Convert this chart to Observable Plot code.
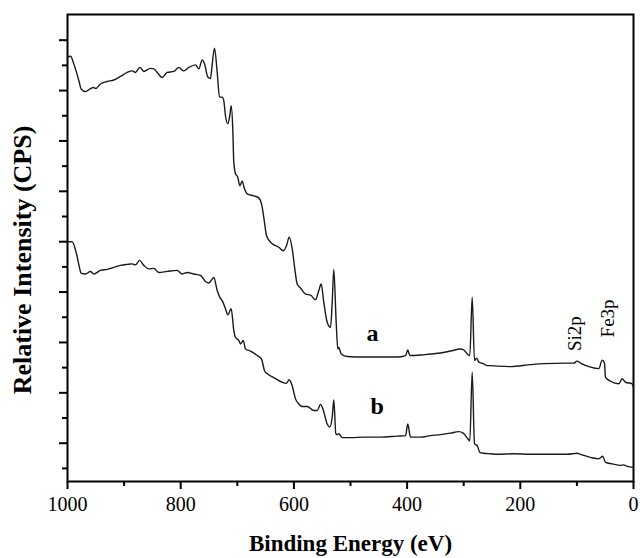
<!DOCTYPE html>
<html>
<head>
<meta charset="utf-8">
<script src="https://cdn.jsdelivr.net/npm/d3@7"></script>
<script src="https://cdn.jsdelivr.net/npm/@observablehq/plot@0.6"></script>
<style>
  html, body { margin: 0; padding: 0; background: #fff; }
</style>
</head>
<body>
<div id="chart"></div>
<script>
// Binding energy (eV) and relative intensity (arbitrary units, one major tick = 1)
const energyA = [1000, 994.7, 988.9, 980.0, 975.8, 968.2, 959.4, 953.5, 950.5, 941.7, 929.9, 918.2, 906.4, 894.5, 885.7, 879.9, 872.3, 865.2, 853.4, 847.5, 841.5, 832.7, 823.9, 812.2, 803.4, 794.5, 785.7, 773.9, 768.0, 762.0, 757.9, 752.1, 747.3, 745, 740.3, 735.5, 731.4, 726.7, 723.9, 720.9, 716.8, 713.3, 710.8, 708.0, 706.2, 703.2, 699.1, 695.6, 691.4, 687.3, 682.5, 670.8, 662.0, 657.2, 651.9, 648.4, 638.3, 626.7, 618.9, 613.1, 608.3, 603.0, 598.4, 594.2, 588.3, 579.5, 570.7, 561.8, 556.0, 551.8, 547.2, 541.2, 535.3, 532.3, 529.5, 525.3, 522.4, 520.7, 516.4, 505.8, 476.5, 447.0, 417.5, 402.8, 398.8, 395.2, 376.3, 358.7, 341.0, 323.3, 305.6, 299.8, 292.7, 289.2, 285.0, 280.9, 277.4, 273.3, 265.6, 258.5, 252.7, 240.8, 217.3, 182.0, 158.5, 117.1, 105.5, 99.5, 93.6, 76.0, 61.3, 55.3, 51.3, 49.5, 40.6, 25.9, 20.0, 14.1, 2.3, 0];
const intensityA = [7.66, 7.68, 7.53, 7.20, 7.03, 6.98, 7.04, 7.06, 7.04, 7.13, 7.18, 7.21, 7.28, 7.36, 7.39, 7.36, 7.46, 7.38, 7.44, 7.43, 7.36, 7.26, 7.36, 7.38, 7.46, 7.39, 7.46, 7.51, 7.43, 7.61, 7.53, 7.27, 7.24, 7.45, 7.84, 7.36, 6.87, 6.87, 6.80, 6.50, 6.34, 6.50, 6.70, 6.24, 5.58, 5.35, 5.28, 5.11, 5.20, 5.05, 4.95, 4.91, 4.87, 4.75, 4.38, 4.12, 3.96, 3.89, 3.82, 3.92, 4.09, 3.86, 3.46, 3.16, 3.08, 2.96, 2.94, 2.85, 3.03, 3.16, 2.80, 2.40, 2.30, 2.80, 3.45, 2.40, 1.87, 1.90, 1.77, 1.72, 1.71, 1.71, 1.71, 1.74, 1.85, 1.74, 1.75, 1.77, 1.79, 1.83, 1.87, 1.85, 1.76, 1.74, 2.90, 1.64, 1.69, 1.61, 1.58, 1.54, 1.54, 1.53, 1.52, 1.56, 1.58, 1.59, 1.59, 1.63, 1.59, 1.51, 1.48, 1.65, 1.59, 1.31, 1.23, 1.18, 1.28, 1.21, 1.18, 1.10];

const energyB = [1000, 991.7, 984.1, 978.3, 975.8, 968.2, 959.4, 953.5, 941.7, 929.9, 918.2, 906.4, 894.5, 885.7, 879.9, 872.8, 865.2, 856.4, 847.5, 838.7, 823.9, 806.2, 797.4, 788.5, 776.9, 765.0, 756.2, 750.4, 746.1, 741.5, 735.5, 731.0, 726.7, 720.9, 716.8, 710.8, 706.2, 703.2, 697.3, 694.3, 689.6, 685.5, 676.7, 664.8, 657.2, 651.9, 647.0, 635.5, 620.7, 613.1, 608.3, 603.0, 597.2, 591.4, 585.3, 576.5, 564.8, 558.8, 553.0, 548.2, 541.2, 536.6, 532.3, 529.5, 525.9, 522.4, 520.7, 514.7, 500.0, 476.5, 447.0, 417.5, 402.8, 398.8, 394.0, 376.3, 358.7, 341.0, 323.3, 308.7, 300.9, 292.7, 289.2, 285.0, 280.9, 276.1, 271.6, 264.5, 252.7, 240.8, 211.5, 182.0, 152.5, 117.1, 99.5, 93.6, 76.0, 61.3, 54.3, 49.5, 37.6, 23.0, 18.2, 11.1, 0];
const intensityB = [4.00, 4.00, 3.76, 3.46, 3.37, 3.36, 3.41, 3.36, 3.43, 3.45, 3.49, 3.53, 3.55, 3.56, 3.54, 3.63, 3.53, 3.46, 3.47, 3.39, 3.41, 3.43, 3.36, 3.39, 3.36, 3.33, 3.21, 3.18, 3.23, 3.29, 3.03, 2.90, 2.83, 2.67, 2.55, 2.67, 2.24, 2.10, 2.04, 1.97, 2.04, 1.87, 1.83, 1.74, 1.67, 1.44, 1.38, 1.30, 1.21, 1.19, 1.26, 1.14, 0.88, 0.78, 0.73, 0.73, 0.65, 0.65, 0.77, 0.66, 0.38, 0.32, 0.52, 0.86, 0.19, 0.17, 0.19, 0.11, 0.11, 0.12, 0.12, 0.14, 0.15, 0.38, 0.12, 0.12, 0.15, 0.17, 0.20, 0.23, 0.20, 0.09, 0.05, 1.41, -0.01, -0.05, -0.18, -0.20, -0.21, -0.22, -0.21, -0.22, -0.22, -0.22, -0.20, -0.22, -0.28, -0.31, -0.26, -0.38, -0.41, -0.44, -0.43, -0.46, -0.48];

// Axis ticks
const xMajorTicks = [1000, 800, 600, 400, 200, 0];
const xMinorTicks = [900, 700, 500, 300, 100];
const yMajorTicks = [0, 1, 2, 3, 4, 5, 6, 7, 8];
const yMinorTicks = [-0.5, 0.5, 1.5, 2.5, 3.5, 4.5, 5.5, 6.5, 7.5];

// Curve labels and peak annotations
const curveLabels = ["a", "b"];
const curveLabelEnergy = [461, 453];
const curveLabelIntensity = [2.19, 0.74];
const peakLabels = ["Si2p", "Fe3p"];
const peakLabelEnergy = [104, 45.5];
const peakLabelIntensity = [1.83, 2.10];
const yTitle = "Relative Intensity (CPS)";
const xTitle = "Binding Energy (eV)";

const seriesA = energyA.map((e, i) => ({energy: e, intensity: intensityA[i]}));
const seriesB = energyB.map((e, i) => ({energy: e, intensity: intensityB[i]}));
const curveLabelData = curveLabels.map((t, i) => ({t, energy: curveLabelEnergy[i], intensity: curveLabelIntensity[i]}));
const peakLabelData = peakLabels.map((t, i) => ({t, energy: peakLabelEnergy[i], intensity: peakLabelIntensity[i]}));

const serif = "'Liberation Serif', 'Times New Roman', 'DejaVu Serif', serif";

const chart = Plot.plot({
  width: 640,
  height: 558,
  marginLeft: 67,
  marginRight: 7,
  marginTop: 14,
  marginBottom: 77,
  style: `font-family: ${serif}; background: #fff; color: #000;`,
  x: {domain: [1000, 0]},
  y: {domain: [-0.76, 8.51]},
  marks: [
    Plot.axisX(xMajorTicks, {tickSize: 8, tickPadding: 7, strokeWidth: 2, fontSize: 20, tickFormat: d => String(d),
      label: xTitle, labelAnchor: "center", labelArrow: "none", labelOffset: 69}),
    Plot.axisX(xMinorTicks, {tickSize: 5, strokeWidth: 2, tickFormat: () => "", label: null}),
    Plot.axisY(yMajorTicks, {tickSize: 8, strokeWidth: 2, tickFormat: () => "", label: null}),
    Plot.axisY(yMinorTicks, {tickSize: 5, strokeWidth: 2, tickFormat: () => "", label: null}),
    Plot.frame({stroke: "#000", strokeWidth: 2}),
    Plot.line(seriesA, {x: "energy", y: "intensity", stroke: "#1a1a1a", strokeWidth: 1.4, curve: "monotone-x"}),
    Plot.line(seriesB, {x: "energy", y: "intensity", stroke: "#1a1a1a", strokeWidth: 1.4, curve: "monotone-x"}),
    Plot.text(curveLabelData, {x: "energy", y: "intensity", text: "t", fontSize: 24, fontWeight: "bold", fill: "#000"}),
    Plot.text(peakLabelData, {x: "energy", y: "intensity", text: "t", fontSize: 19, rotate: -90, textAnchor: "start", lineAnchor: "middle", fill: "#000"})
  ]
});

const svg = d3.select(chart);
svg.selectAll("text").style("font-family", serif);
svg.selectAll("g[aria-label='x-axis label']")
  .style("font-weight", "bold")
  .attr("font-size", 23);
// rotated y-axis title, placed beside the left axis
svg.append("text")
  .attr("transform", "translate(31,260) rotate(-90)")
  .attr("text-anchor", "middle")
  .attr("font-size", 26)
  .attr("font-weight", "bold")
  .attr("fill", "#000")
  .style("font-family", serif)
  .text(yTitle);

document.getElementById("chart").appendChild(chart);
</script>
</body>
</html>
